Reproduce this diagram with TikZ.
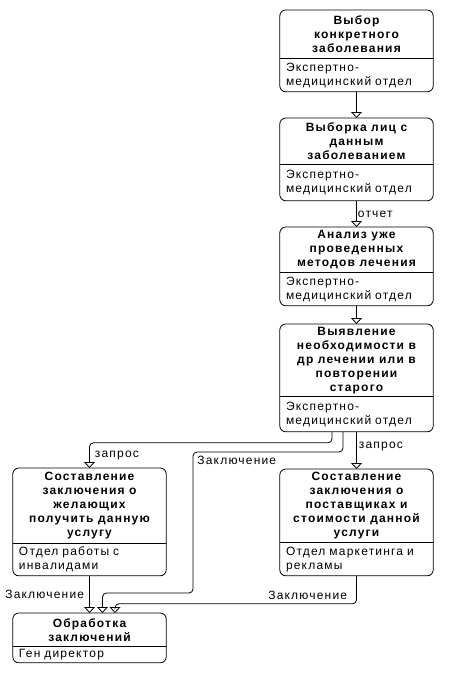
\documentclass[tikz,border=0pt]{standalone}
\usepackage{fontspec}
\setmainfont{Liberation Sans}[LetterSpace=10]
\usetikzlibrary{positioning,arrows.meta}

\begin{document}
\begin{tikzpicture}[x=1pt, y=-1pt,
    every node/.style={font=\fontsize{12}{14}\selectfont},
    ttl/.style={minimum width=153pt, inner sep=2pt, align=center,
                font=\fontsize{12}{14}\selectfont\bfseries},
    bdy/.style={text width=141pt, inner xsep=6pt, inner ysep=1pt, align=left},
    frm/.style={draw, line width=0.8pt, rounded corners=6pt},
    flow/.style={-{Triangle[open, width=11pt, length=6pt]}, line width=0.8pt,
                 rounded corners=4pt},
    lbl/.style={inner sep=2pt},
]
\useasboundingbox (0,0) rectangle (451,678);

% Выбор конкретного заболевания
\node[ttl, minimum height=48pt, anchor=north] (sel) at (356.5,10) {Выбор\\конкретного\\заболевания};
\node[bdy, minimum height=33pt, below=0pt of sel] (selb) {Экспертно-\\медицинский отдел};
\draw[frm] (sel.north west) rectangle (selb.south east);
\draw[line width=0.8pt] (sel.south west) -- (sel.south east);

% Выборка лиц
\node[ttl, minimum height=46pt, anchor=north] (smp) at (356.5,118) {Выборка лиц с\\данным\\заболеванием};
\node[bdy, minimum height=36pt, below=0pt of smp] (smpb) {Экспертно-\\медицинский отдел};
\draw[frm] (smp.north west) rectangle (smpb.south east);
\draw[line width=0.8pt] (smp.south west) -- (smp.south east);

% Анализ методов
\node[ttl, minimum height=45pt, anchor=north] (anl) at (356.5,227) {Анализ уже\\проведенных\\методов лечения};
\node[bdy, minimum height=33pt, below=0pt of anl] (anlb) {Экспертно-\\медицинский отдел};
\draw[frm] (anl.north west) rectangle (anlb.south east);
\draw[line width=0.8pt] (anl.south west) -- (anl.south east);

% Выявление необходимости
\node[ttl, minimum height=72pt, anchor=north] (rev) at (356.5,324) {Выявление\\необходимости в\\др лечении или в\\повторении\\старого};
\node[bdy, minimum height=35pt, below=0pt of rev] (revb) {Экспертно-\\медицинский отдел};
\draw[frm] (rev.north west) rectangle (revb.south east);
\draw[line width=0.8pt] (rev.south west) -- (rev.south east);

% Заключение о желающих
\node[ttl, minimum height=75pt, anchor=north] (clt) at (89.5,468) {Составление\\заключения о\\желающих\\получить данную\\услугу};
\node[bdy, minimum height=32pt, below=0pt of clt] (cltb) {Отдел работы с\\инвалидами};
\draw[frm] (clt.north west) rectangle (cltb.south east);
\draw[line width=0.8pt] (clt.south west) -- (clt.south east);

% Заключение о поставщиках
\node[ttl, minimum height=73pt, anchor=north] (sup) at (356.5,469) {Составление\\заключения о\\поставщиках и\\стоимости данной\\услуги};
\node[bdy, minimum height=33pt, below=0pt of sup] (supb) {Отдел маркетинга и\\рекламы};
\draw[frm] (sup.north west) rectangle (supb.south east);
\draw[line width=0.8pt] (sup.south west) -- (sup.south east);

% Обработка заключений
\node[ttl, minimum height=33pt, anchor=north] (fin) at (89.5,613) {Обработка\\заключений};
\node[bdy, minimum height=16pt, below=0pt of fin] (finb) {Ген директор};
\draw[frm] (fin.north west) rectangle (finb.south east);
\draw[line width=0.8pt] (fin.south west) -- (fin.south east);

% связи
\draw[flow] (selb) -- (smp);
\draw[flow] (smpb) -- node[lbl, right, inner sep=1pt]{отчет} (anl);
\draw[flow] (anlb) -- (rev);
\draw[flow] ([xshift=-24.5pt]revb.south) -- ++(0,11)
    -| node[lbl, right, pos=0.75, inner sep=5pt]{запрос} (clt.north);
\draw[flow] ([xshift=-13.5pt]revb.south) |- (193,452)
    node[lbl, anchor=north west, inner sep=4pt]{Заключение}
    -- (193,593) -| ([xshift=13pt]fin.north);
\draw[flow] (revb) -- node[lbl, right, pos=0.4]{запрос} (sup);
\draw[flow] (cltb) -- node[lbl, left, inner sep=5pt]{Заключение} (fin);
\draw[flow] (supb.south) -- node[lbl, left, pos=0.7, inner sep=9pt]{Заключение} ++(0,28)
    -| ([xshift=25.5pt]fin.north);
\end{tikzpicture}
\end{document}
